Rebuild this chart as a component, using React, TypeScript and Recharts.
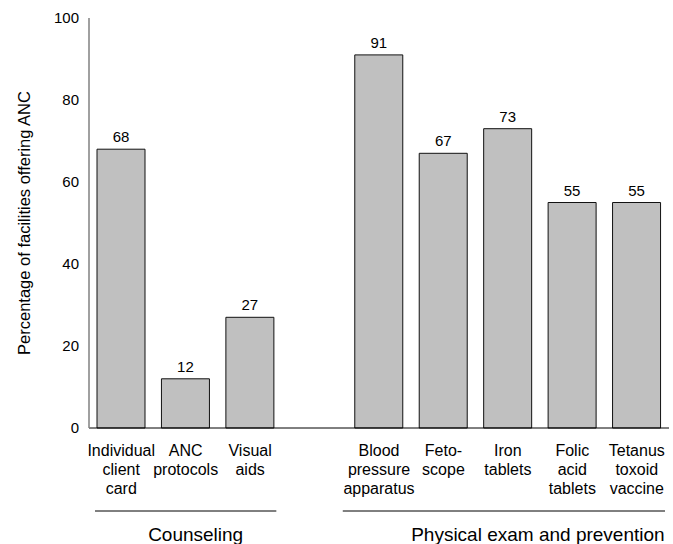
import React from 'react';
import { Bar, BarChart, LabelList, XAxis, YAxis } from 'recharts';

// '' marks the empty slot between the two groups
const categories = [
  'Individual\nclient\ncard',
  'ANC\nprotocols',
  'Visual\naids',
  '',
  'Blood\npressure\napparatus',
  'Feto-\nscope',
  'Iron\ntablets',
  'Folic\nacid\ntablets',
  'Tetanus\ntoxoid\nvaccine',
];
const values: (number | null)[] = [68, 12, 27, null, 91, 67, 73, 55, 55];
const yTicks = [0, 20, 40, 60, 80, 100];
const groupNames = ['Counseling', 'Physical exam and prevention'];
const groupStart = [0, 4];
const groupSize = [3, 5];

// line padding [left, right] and label shift, per group
const groupStyle = [
  { padL: 6, padR: 6, dx: 10 },
  { padL: -4, padR: 4, dx: 30 },
];

const data = categories.map((name, i) => ({ name, value: values[i] }));
const FONT = '"Liberation Sans", Arial, sans-serif';

function CategoryTick(props: any) {
  const { x, y, payload, index, width, visibleTicksCount } = props;
  const slot = width / visibleTicksCount;
  const lines: string[] = payload.value ? String(payload.value).split('\n') : [];
  const g = groupStart.indexOf(index);
  return (
    <g>
      {lines.length > 0 && (
        <text x={x} y={y + 20} textAnchor="middle" fontSize={16} fill="#000" fontFamily={FONT}>
          {lines.map((l, i) => (
            <tspan key={i} x={x} dy={i === 0 ? 0 : 19}>
              {l}
            </tspan>
          ))}
        </text>
      )}
      {g >= 0 && (
        <g>
          <line
            x1={x - slot / 2 + groupStyle[g].padL}
            x2={x + (groupSize[g] - 0.5) * slot - groupStyle[g].padR}
            y1={y + 75}
            y2={y + 75}
            stroke="#000"
            strokeWidth={1}
          />
          <text
            x={x + ((groupSize[g] - 1) * slot) / 2 + groupStyle[g].dx}
            y={y + 105}
            textAnchor="middle"
            fontSize={19}
            fill="#000"
            fontFamily={FONT}
          >
            {groupNames[g]}
          </text>
        </g>
      )}
    </g>
  );
}

function ValueLabel(props: any) {
  const { x, y, width, value } = props;
  if (value == null) return null;
  return (
    <text x={x + width / 2} y={y - 7} textAnchor="middle" fontSize={15} fill="#000" fontFamily={FONT}>
      {value}
    </text>
  );
}

export default function App() {
  return (
    <div style={{ width: 673, height: 544, background: '#fff' }}>
      <style>{'body{margin:0}'}</style>
      <BarChart
        width={673}
        height={544}
        data={data}
        margin={{ top: 18, right: 4, bottom: 0, left: 0 }}
        barCategoryGap={8}
      >
        <XAxis
          dataKey="name"
          interval={0}
          height={116}
          tickLine={false}
          axisLine={{ stroke: '#000' }}
          tick={<CategoryTick />}
        />
        <YAxis
          width={89}
          domain={[0, 100]}
          ticks={yTicks}
          tickLine={false}
          tickMargin={4}
          axisLine={{ stroke: '#808080', strokeWidth: 1.5 }}
          tick={{ fill: '#000', fontSize: 15, fontFamily: FONT }}
          label={{
            value: 'Percentage of facilities offering ANC',
            angle: -90,
            position: 'center',
            dx: -20,
            style: { fill: '#000', fontSize: 16.5, fontFamily: FONT, textAnchor: 'middle' },
          }}
        />
        <Bar dataKey="value" fill="#c0c0c0" stroke="#111" strokeWidth={1} isAnimationActive={false}>
          <LabelList dataKey="value" content={<ValueLabel />} />
        </Bar>
      </BarChart>
    </div>
  );
}
